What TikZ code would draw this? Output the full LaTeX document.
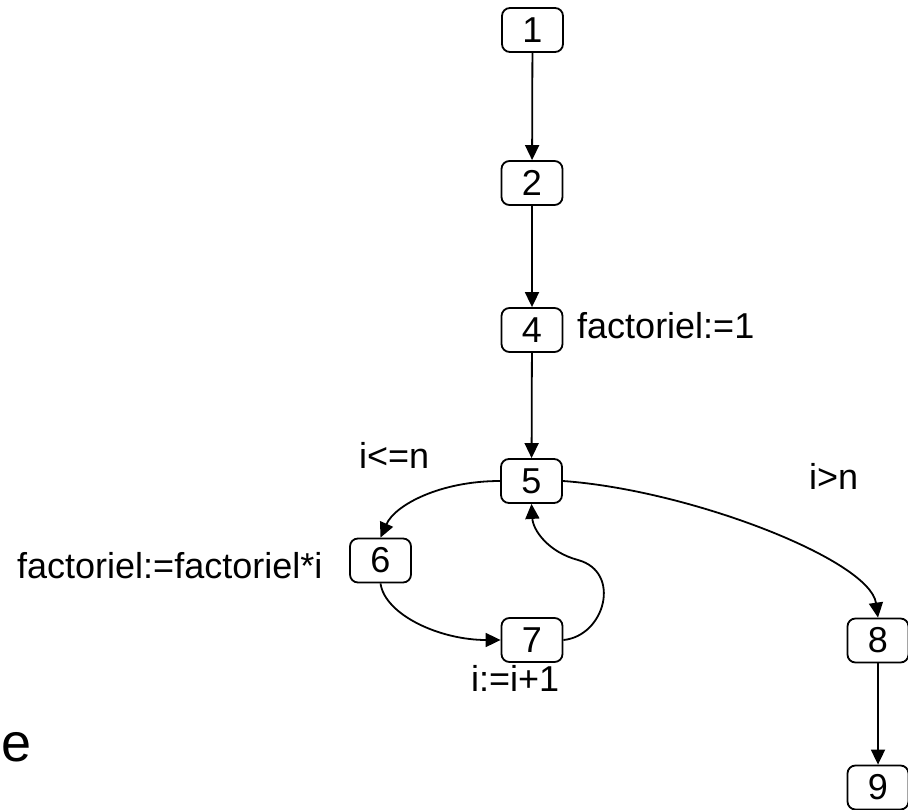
\documentclass[tikz,border=0pt]{standalone}
\usepackage{fontspec}
\setmainfont{Liberation Sans}
\usetikzlibrary{arrows.meta}
\begin{document}
\begin{tikzpicture}[x=1pt,y=-1pt,
  stepbox/.style={draw,line width=1.8pt,rounded corners=8pt,minimum width=61pt,minimum height=44pt,inner sep=0pt,font=\fontsize{36}{40}\selectfont},
  lbl/.style={inner sep=0pt,font=\fontsize{36}{40}\selectfont},
  conn/.style={line width=1.8pt,-{Triangle[length=15pt,width=14pt]}},
  plain/.style={line width=1.8pt}]
\useasboundingbox (0,0) rectangle (908,810);
\node[stepbox] (n1) at (532.5,30) {1};
\node[stepbox] (n2) at (532,183) {2};
\node[stepbox] (n4) at (532,330) {4};
\node[stepbox] (n5) at (531.5,481) {5};
\node[stepbox] (n6) at (380.5,560.5) {6};
\node[stepbox] (n7) at (532,640) {7};
\node[stepbox] (n8) at (878,640.5) {8};
\node[stepbox] (n9) at (878,787.5) {9};
\node[lbl,anchor=base west] (l4) at (577,339) {factoriel:=1};
\node[lbl,anchor=base west] (l6) at (17,578) {factoriel:=factoriel*i};
\node[lbl,anchor=base west] (lle) at (359,468) {i<=n};
\node[lbl,anchor=base west] (lgt) at (809,489) {i>n};
\node[lbl,anchor=base west] (l7) at (471,691) {i:=i+1};
\node[inner sep=0pt,font=\fontsize{54}{60}\selectfont] (le) at (17,747) {e};
\draw[conn] (n1) -- (n2);
\draw[conn] (n2) -- (n4);
\draw[conn] (n4) -- (n5);
\draw[conn] (n8) -- (n9);
\draw[conn] (n5.west) .. controls (440,481) and (395,505) .. (n6.north);
\draw[conn] (n6.south) .. controls (385,615) and (440,640) .. (n7.west);
\draw[conn] (n7.east) .. controls (605,636) and (622,572) .. (578,560)
  .. controls (548,552) and (533,530) .. (n5.south);
\draw[conn] (n5.east) .. controls (690,490) and (870,560) .. (n8.north);
\end{tikzpicture}
\end{document}
